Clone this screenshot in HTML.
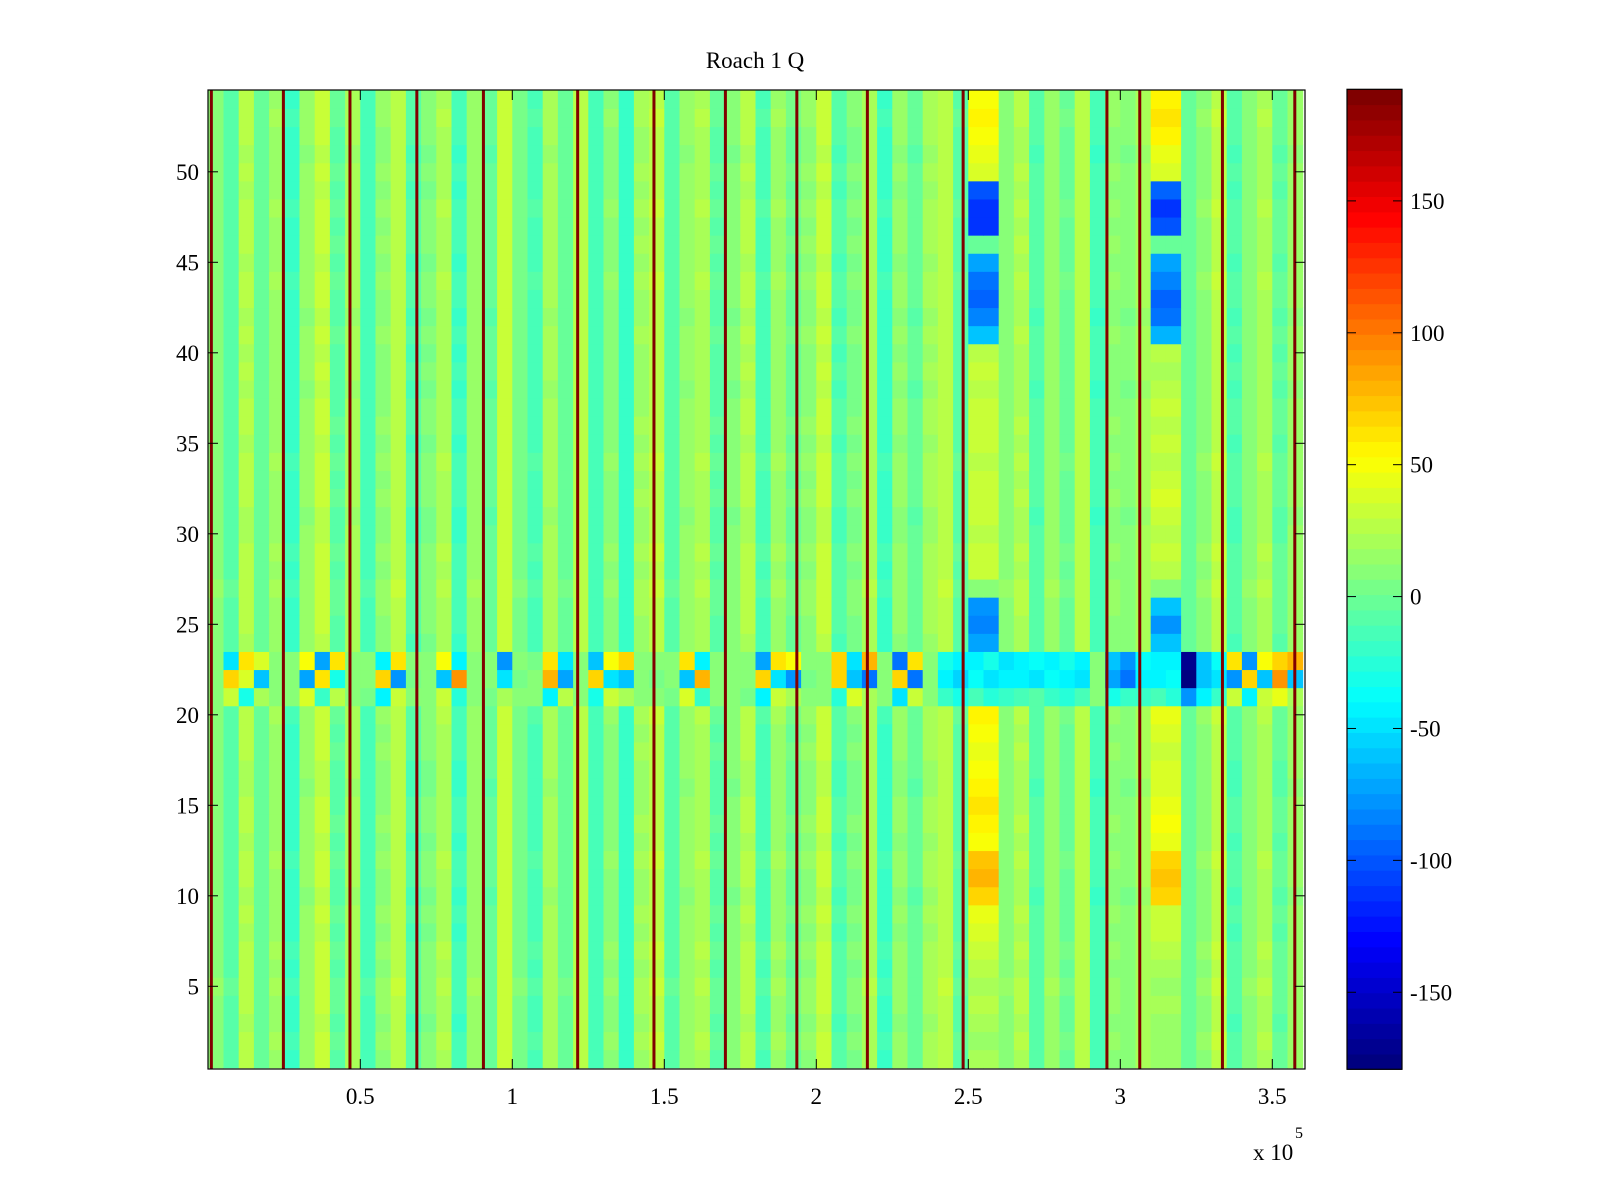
<!DOCTYPE html>
<html><head><meta charset="utf-8"><style>
body{margin:0;background:#fff;}
svg{display:block;font-family:"Liberation Serif",serif;}
</style></head><body>
<svg id="chart" width="1600" height="1200" viewBox="0 0 1600 1200">
<rect width="1600" height="1200" fill="#fff"/>
<g id="cells"></g>
<g id="spk"></g>
<g id="cbar"></g>
<g id="axes"></g>
<text x="755" y="68" font-size="23" text-anchor="middle">Roach 1 Q</text>
<text x="1253" y="1160" font-size="23">x 10</text>
<text x="1295" y="1138" font-size="16">5</text>
</svg>
<script>
// ---- data ----
const colBase = [8,-10,22,-5,15,-20,12,28,-8,18,-15,10,25,-12,5,20,-18,14,-6,30,2,-14,18,-4,24,-16,9,-22,16,26,-10,12,20,-8,6,22,-14,15,-2,10,28,-12,4,19,-20,11,-6,17,25,-9,12,-15,8,21,-11,14,-3,24,-17,10,6,18,-13,15,-5,9,26,-12,8,20,-7,12];
const rowBase = [2,4,1,3,5,2,4,1,3,0,2,4,1,3,2,0,1,3,2,4,0,0,0,1,2,3,5,2,4,1,0,3,2,4,1,3,2,0,2,1,3,0,2,4,1,3,2,4,1,3,0,2,4,3];
const hotA = [20,18,22,25,20,28,30,40,45,70,80,75,50,55,60,55,50,45,50,55,0,0,0,-70,-85,-75,10,30,35,25,30,35,30,25,30,35,30,28,30,25,-60,-85,-95,-90,-70,0,-110,-115,-100,40,45,50,55,50];
const hotB = [15,18,15,20,18,22,25,30,35,65,75,70,45,50,45,40,40,35,40,45,0,0,0,-60,-75,-60,10,25,30,28,35,40,30,25,30,25,30,25,20,25,-65,-90,-95,-85,-70,0,-100,-110,-95,40,45,55,60,55];
const band21 = [10,30,-30,20,8,12,40,-20,25,10,6,-40,35,8,12,30,-25,10,6,20,12,8,-40,25,10,-30,35,20,12,8,6,40,-20,10,12,6,-40,30,20,8,10,-25,40,20,12,-50,35,10,-20,-30,-15,-25,-20,-15,-10,-20,-25,-15,8,-30,-20,-20,-15,-25,-80,-40,-20,30,-40,35,45,20];
const band22 = [10,70,40,-60,10,8,-70,60,-30,12,8,70,-80,6,10,-60,90,8,10,-50,6,10,80,-70,8,70,-50,-60,10,6,8,-60,80,12,8,10,70,-50,-80,6,8,70,-60,-90,10,70,-90,8,-40,-55,-35,-50,-45,-40,-50,-35,-40,-50,10,-70,-90,-45,-40,-35,-175,-60,-50,-80,70,-60,90,-60];
const band23 = [10,-50,60,40,8,12,50,-70,60,8,10,-40,60,12,8,50,-45,10,12,-80,10,6,60,-50,12,-60,50,70,8,10,12,60,-40,8,10,12,-70,60,50,10,8,70,-50,80,8,-90,60,12,-30,-45,-40,-30,-50,-45,-35,-40,-30,-45,12,-60,-80,-35,-45,-40,-170,-60,-35,60,-80,50,70,80];
const spikes = [0.01,0.247,0.466,0.686,0.905,1.215,1.466,1.701,1.936,2.168,2.483,2.956,3.064,3.336,3.574];
const xTicks = [0.5,1,1.5,2,2.5,3,3.5];
const xTickLabels = ["0.5","1","1.5","2","2.5","3","3.5"];
const yTicks = [5,10,15,20,25,30,35,40,45,50];
const cbTicks = [-150,-100,-50,0,50,100,150];

// ---- scales ----
const L=208,R=1305,T=90,B=1069, CMIN=-179.2, CMAX=192.3;
const xs = v => 208.3 + v*304;
const ys = v => 986.3 - (v-5)*18.1;
function jet(v){
  let t=(v-CMIN)/(CMAX-CMIN); t=Math.max(0,Math.min(1,t)); t=Math.floor(t*63.999)/63;
  const c=x=>Math.round(255*Math.max(0,Math.min(1,x)));
  return `rgb(${c(1.5-Math.abs(4*t-3))},${c(1.5-Math.abs(4*t-2))},${c(1.5-Math.abs(4*t-1))})`;
}
const NS="http://www.w3.org/2000/svg";
function mk(tag,attrs,parent){const e=document.createElementNS(NS,tag);for(const k in attrs)e.setAttribute(k,attrs[k]);parent.appendChild(e);return e;}

// ---- cells ----
const cells=document.getElementById('cells');
const nC=colBase.length, cw=0.05;
for(let r=0;r<54;r++){
  for(let c=0;c<nC;c++){
    const xa=c*cw, xb=(c+1)*cw;
    let v;
    if(r===20) v=band21[c]; else if(r===21) v=band22[c]; else if(r===22) v=band23[c];
    else if(c===50||c===51) v=hotA[r];
    else if(c===62||c===63) v=hotB[r];
    else v=colBase[c]+rowBase[r];
    const x0=Math.max(L,xs(xa)), x1=Math.min(R,xs(xb));
    if(x1<=x0) continue;
    const y0=Math.max(T,ys(r+1.5)), y1=Math.min(B,ys(r+0.5));
    const el=mk('rect',{x:x0,y:y0,width:x1-x0+0.5,height:y1-y0+0.5,fill:jet(v)},cells);
    
    
  }
}
// ---- spikes ----
const spk=document.getElementById('spk');
spikes.forEach(s=>{
  const x=xs(s);
  const l=mk('rect',{x:x-1.5,y:T,width:3,height:B-T,fill:'rgb(128,0,0)'},spk);
  
  
});
// ---- axes ----
const ax=document.getElementById('axes');
const fr=mk('rect',{x:L,y:T,width:R-L,height:B-T,fill:'none',stroke:'#000','stroke-width':1.2},ax);


xTicks.forEach((t,i)=>{
  const x=xs(t);
  mk('line',{x1:x,y1:B,x2:x,y2:B-10,stroke:'#000'},ax);
  mk('line',{x1:x,y1:T,x2:x,y2:T+10,stroke:'#000'},ax);
  const tx=mk('text',{x:x,y:1104,'font-size':23,'text-anchor':'middle'},ax);
  tx.textContent=xTickLabels[i];
  
  
});
yTicks.forEach(t=>{
  const y=ys(t);
  mk('line',{x1:L,y1:y,x2:L+10,y2:y,stroke:'#000'},ax);
  mk('line',{x1:R,y1:y,x2:R-10,y2:y,stroke:'#000'},ax);
  const tx=mk('text',{x:199,y:y+8,'font-size':23,'text-anchor':'end'},ax);
  tx.textContent=t;
  
  
});
// ---- colorbar ----
const cb=document.getElementById('cbar');
const CL=1347,CR=1402;
const cys=v=>89.3+(CMAX-v)/(CMAX-CMIN)*(1069.3-89.3);
for(let i=0;i<64;i++){
  const va=CMIN+(CMAX-CMIN)*i/64, vb=CMIN+(CMAX-CMIN)*(i+1)/64;
  const r=mk('rect',{x:CL,y:cys(vb),width:CR-CL,height:cys(va)-cys(vb)+0.5,fill:jet((va+vb)/2)},cb);
  
  
}
mk('rect',{x:CL,y:89.3,width:CR-CL,height:980,fill:'none',stroke:'#000','stroke-width':1.2},cb);
cbTicks.forEach(t=>{
  const y=cys(t);
  mk('line',{x1:CL,y1:y,x2:CL+9,y2:y,stroke:'#000'},cb);
  mk('line',{x1:CR,y1:y,x2:CR-9,y2:y,stroke:'#000'},cb);
  const tx=mk('text',{x:1410,y:y+8,'font-size':23,'text-anchor':'start'},cb);
  tx.textContent=t;
  
  
});
</script>
</body></html>
